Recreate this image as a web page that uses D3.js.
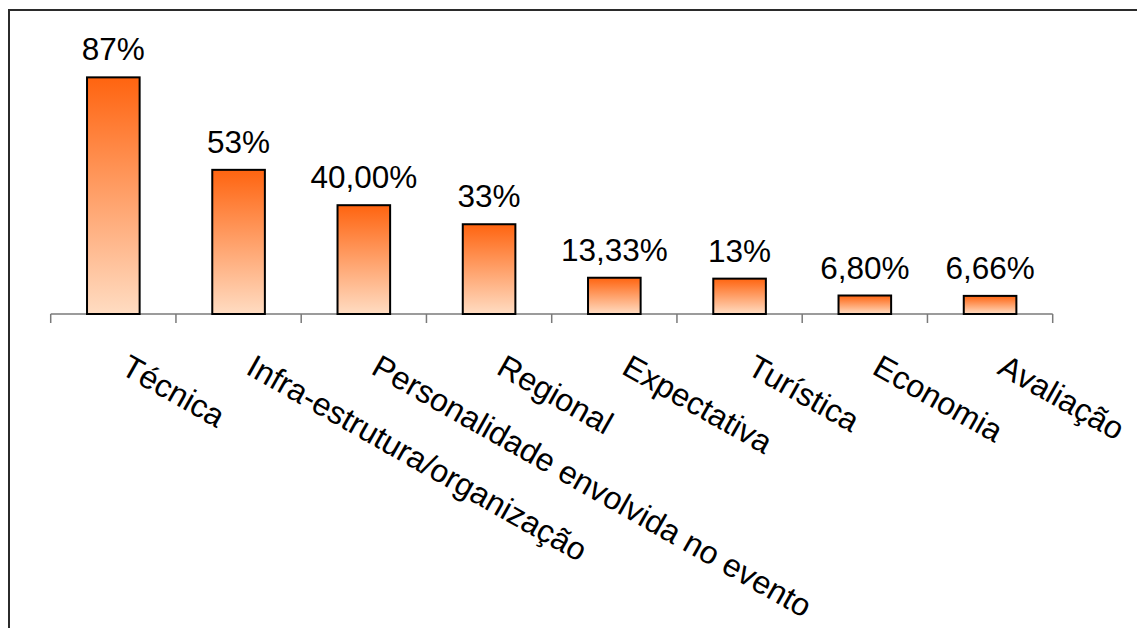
<!DOCTYPE html>
<html>
<head>
<meta charset="utf-8">
<script src="https://cdn.jsdelivr.net/npm/d3@7"></script>
<style>
  body { margin: 0; background: #fff; }
  svg { display: block; font-family: "Liberation Sans", Arial, sans-serif; }
</style>
</head>
<body>
<div class="container"></div>
<script>
// chart data
var categories = ["Técnica", "Infra-estrutura/organização", "Personalidade envolvida no evento",
  "Regional", "Expectativa", "Turística", "Economia", "Avaliação"]
var values = [0.87, 0.53, 0.40, 0.33, 0.1333, 0.13, 0.068, 0.0666]
var valueLabels = ["87%", "53%", "40,00%", "33%", "13,33%", "13%", "6,80%", "6,66%"]

var width = 1137,
  height = 628

var plot = { left: 50.7, right: 1052.7, top: 42, bottom: 314 }

var svg = d3.select(".container").append("svg")
  .attr("width", width)
  .attr("height", height)

// outer frame (runs off the right and bottom edge)
svg.append("rect")
  .attr("x", 9)
  .attr("y", 10)
  .attr("width", 1200)
  .attr("height", 700)
  .attr("fill", "none")
  .attr("stroke", "#2b2b2b")
  .attr("stroke-width", 2)

var x = d3.scaleBand()
  .domain(categories)
  .range([plot.left, plot.right])
  .paddingInner(0.58)
  .paddingOuter(0.29)

var xEdges = d3.scaleBand()
  .domain(categories)
  .range([plot.left, plot.right])
  .padding(0)

var y = d3.scaleLinear()
  .domain([0, 1])
  .range([plot.bottom, plot.top])

// gradient, top dark orange to light peach
var defs = svg.append("defs")
var grad = defs.append("linearGradient")
  .attr("id", "barGrad")
  .attr("x1", 0).attr("y1", 0)
  .attr("x2", 0).attr("y2", 1)
grad.append("stop").attr("offset", "0%").attr("stop-color", "#ff6410")
grad.append("stop").attr("offset", "100%").attr("stop-color", "#ffdcc2")

// ---------- AXIS ----------
var axis = svg.append("g").attr("class", "axis")

axis.append("line")
  .attr("x1", plot.left).attr("x2", plot.right)
  .attr("y1", plot.bottom).attr("y2", plot.bottom)
  .attr("stroke", "#7a7a7a")
  .attr("stroke-width", 1.5)

var tickPos = categories.map(function(c) { return xEdges(c) })
tickPos.push(plot.right)

axis.selectAll(".tick")
  .data(tickPos)
  .enter().append("line")
  .attr("class", "tick")
  .attr("x1", function(d) { return d }).attr("x2", function(d) { return d })
  .attr("y1", plot.bottom).attr("y2", plot.bottom + 9)
  .attr("stroke", "#7a7a7a")
  .attr("stroke-width", 1.5)

// ---------- BARS ----------
var data = categories.map(function(c, i) {
  return { name: c, value: values[i], label: valueLabels[i] }
})

svg.selectAll(".bar")
  .data(data)
  .enter().append("rect")
  .attr("class", "bar")
  .attr("x", function(d) { return x(d.name) })
  .attr("y", function(d) { return y(d.value) })
  .attr("width", x.bandwidth())
  .attr("height", function(d) { return y(0) - y(d.value) })
  .attr("fill", "url(#barGrad)")
  .attr("stroke", "#000")
  .attr("stroke-width", 2)

svg.selectAll(".value")
  .data(data)
  .enter().append("text")
  .attr("class", "value")
  .attr("x", function(d) { return x(d.name) + x.bandwidth() / 2 })
  .attr("y", function(d) { return y(d.value) - 17 })
  .attr("text-anchor", "middle")
  .attr("font-size", 31.5)
  .attr("fill", "#000")
  .text(function(d) { return d.label })

// rotated category labels
svg.selectAll(".cat")
  .data(data)
  .enter().append("text")
  .attr("class", "cat")
  .attr("transform", function(d) {
    var cx = x(d.name) + x.bandwidth() / 2 + 6
    return "translate(" + cx + "," + 373 + ") rotate(29.5)"
  })
  .attr("text-anchor", "start")
  .attr("font-size", 32)
  .attr("fill", "#000")
  .text(function(d) { return d.name })
</script>
</body>
</html>
